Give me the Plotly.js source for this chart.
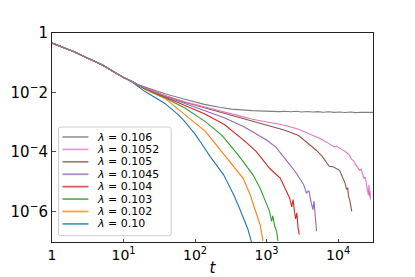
<!DOCTYPE html>
<html><head><meta charset="utf-8">
<script src="https://cdn.plot.ly/plotly-3.0.1.min.js"></script>
<style>html,body{margin:0;padding:0;background:#fff;} #chart{width:415px;height:277px;}</style>
</head><body><div id="chart"></div>
<script>
// ---- data ----
const lambdaLabels = ["0.10","0.102","0.103","0.104","0.1045","0.105","0.1052","0.106"];
const seriesColors = ["#1f77b4","#ff7f0e","#2ca02c","#d62728","#9467bd","#8c564b","#e377c2","#7f7f7f"];

// common early-time part shared by all curves
const tBase = [1,1.5,2,3,5,7,10];
const yBase = [0.457,0.316,0.240,0.151,0.0851,0.0525,0.0316];

// lambda = 0.10
const t100 = [13,16,20,38,59,72,100,126,162,251,347,407,468,550,617];
const y100 = [0.0229,0.0158,0.0107,0.00427,0.00174,0.00105,0.000398,0.000178,7.1e-5,1.7e-5,3.63e-6,1.48e-6,6.0e-7,2.45e-7,8.9e-8];
// lambda = 0.102
const t102 = [13,16,20,38,72,138,175,240,380,468,590,725,810,850,890];
const y102 = [0.0234,0.017,0.0126,0.0063,0.00174,0.000501,0.000251,1.0e-4,2.4e-5,1.32e-5,3.63e-6,7.8e-7,3.55e-7,2.0e-7,1.0e-7];
// lambda = 0.103
const t103 = [13,16,20,38,72,138,240,400,646,813,1000,1100,1175,1220,1300,1380,1445];
const y103 = [0.0234,0.0172,0.0132,0.0066,0.00302,0.00107,0.000355,7.9e-5,1.7e-5,6.0e-6,1.66e-6,1.0e-6,4.57e-7,7.1e-7,3.16e-7,2.14e-7,1.0e-7];
// lambda = 0.104
const t104 = [13,16,20,38,72,135,257,360,510,720,1100,1550,1900,2100,2250,2350,2450,2550,2650,2750,2870];
const y104 = [0.0237,0.0174,0.0135,0.00708,0.0038,0.00191,0.000832,0.000447,0.000219,0.000102,2.82e-5,1.32e-5,4.68e-6,2.82e-6,1.41e-6,2.51e-6,1.0e-6,5.6e-7,8.9e-7,2.82e-7,1.66e-7];
// lambda = 0.1045
const t1045 = [13,16,20,38,72,135,257,490,630,1000,1350,1800,2150,2600,3000,3300,3600,3900,4200,4450,4600,4750,4900,5000];
const y1045 = [0.0237,0.0176,0.0138,0.00741,0.00427,0.00251,0.00141,0.000692,0.000479,0.000251,0.000145,6.3e-5,3.55e-5,1.95e-5,1.12e-5,7.9e-6,4.17e-6,5.0e-6,2.0e-6,1.15e-6,2.24e-6,7.9e-7,4.0e-7,2.14e-7];
// lambda = 0.105
const t105 = [13,16,20,38,72,135,220,320,500,630,1000,1800,2800,4000,5000,6000,7500,8500,9500,10500,11500,12300,13200,13600,14000,14500,15000,15500];
const y105 = [0.024,0.0178,0.0141,0.00776,0.00468,0.00309,0.00219,0.00174,0.00132,0.00112,0.000832,0.000537,0.000355,0.000182,0.000112,7.1e-5,3.3e-5,3.16e-5,2.75e-5,2.4e-5,1.41e-5,1.0e-5,5.4e-6,6.3e-6,3.2e-6,2.5e-6,1.58e-6,1.0e-6];
// lambda = 0.1052
const t1052 = [13,16,20,38,72,135,220,320,500,630,1000,1800,2800,3900,5600,7000,8100,8800,9500,10500,11500,12500,13500,14500,15500,16500,17500,18500,20000,21000,22000,23000,24000,25000,25800,26500,27000,27500,28000,28300];
const y1052 = [0.024,0.018,0.0145,0.00794,0.0049,0.00324,0.0024,0.0019,0.00145,0.00126,0.00102,7.94e-4,5.75e-4,4.17e-4,2.82e-4,2.09e-4,1.74e-4,1.48e-4,1.58e-4,1.32e-4,1.17e-4,1.05e-4,8.9e-5,7.6e-5,5.6e-5,5.0e-5,3.8e-5,3.16e-5,2.4e-5,2.63e-5,1.58e-5,1.26e-5,1.41e-5,8.9e-6,5.6e-6,3.5e-6,7.9e-6,3.2e-6,5.0e-6,2.5e-6];
// lambda = 0.106
const t106 = [13,16,20,38,72,135,220,320,630,1000,1250,1500,1800,2200,2600,3100,3700,4400,5200,6200,7400,8800,10500,12500,15000,17500,21000,25000,30900];
const y106 = [0.024,0.0182,0.0151,0.0091,0.0059,0.00398,0.00316,0.00275,0.00245,0.00234,0.0024,0.00226,0.00234,0.00224,0.00232,0.00221,0.00229,0.00219,0.00226,0.00216,0.00224,0.00214,0.00221,0.00211,0.00219,0.00209,0.00216,0.00211,0.00214];

// ticks
const xTickVals = [1,10,100,1000,10000];
const xTickText = ["1","10<sup>1</sup>","10<sup>2</sup>","10<sup>3</sup>","10<sup>4</sup>"];
const yTickVals = [1,1e-2,1e-4,1e-6];
const yTickText = ["1","10<sup>−</sup>2","10<sup>−</sup>4","10<sup>−</sup>6"];

// ---- build ----
const tSeries = [t100,t102,t103,t104,t1045,t105,t1052,t106];
const ySeries = [y100,y102,y103,y104,y1045,y105,y1052,y106];

const traces = tSeries.map((ts,i)=>({
  x: tBase.concat(ts), y: yBase.concat(ySeries[i]),
  type:'scatter', mode:'lines', showlegend:false,
  line:{color:seriesColors[i], width:1.1},
  hoverinfo:'skip'
}));

const M = {l:51.5, r:41.7, t:32.7, b:34.7};
const W = 415 - M.l - M.r, H = 277 - M.t - M.b;
const px = v => (v - M.l)/W;
const py = v => (277 - M.b - v)/H;

// custom legend (top entry = last series)
const shapes = [];
const annotations = [];
const bx0 = 58, bx1 = 171, by0 = 127, by1 = 236, rr = 2.5;
const rx = rr/W, ry = rr/H;
const X0 = px(bx0), X1 = px(bx1), Y0 = py(by1), Y1 = py(by0);
shapes.push({type:'path', xref:'paper', yref:'paper',
  path:`M ${X0+rx} ${Y0} L ${X1-rx} ${Y0} Q ${X1} ${Y0} ${X1} ${Y0+ry} L ${X1} ${Y1-ry} Q ${X1} ${Y1} ${X1-rx} ${Y1} L ${X0+rx} ${Y1} Q ${X0} ${Y1} ${X0} ${Y1-ry} L ${X0} ${Y0+ry} Q ${X0} ${Y0} ${X0+rx} ${Y0} Z`,
  fillcolor:'rgba(255,255,255,0.8)', line:{color:'#cccccc', width:1}});
const n = lambdaLabels.length;
for (let k=0;k<n;k++){
  const i = n-1-k;
  const rowY = 137 + 12.45*k;
  shapes.push({type:'line', xref:'paper', yref:'paper', x0:px(62), x1:px(88), y0:py(rowY), y1:py(rowY),
    line:{color:seriesColors[i], width:1.8}, opacity:0.75});
  annotations.push({xref:'paper', yref:'paper', x:px(95.5), y:py(rowY), xanchor:'left', yanchor:'middle',
    borderpad:0, text:'<i>λ</i> = '+lambdaLabels[i], showarrow:false,
    font:{family:'DejaVu Sans', size:11, color:'#000'}});
}

const axisCommon = {type:'log', showgrid:false, zeroline:false, showline:true, mirror:true,
  linecolor:'#222', linewidth:1, ticks:'inside', ticklen:3.5, tickwidth:0.8, tickcolor:'#222'};

const layout = {
  width:415, height:277, margin:M, paper_bgcolor:'#fff', plot_bgcolor:'#fff',
  font:{family:'DejaVu Sans', color:'#000'},
  showlegend:false,
  xaxis:Object.assign({}, axisCommon, {range:[0,4.488], tickmode:'array', tickvals:xTickVals, ticktext:xTickText,
     tickfont:{size:14}, title:{text:'<i>t</i>', font:{size:15}, standoff:8}, automargin:false}),
  yaxis:Object.assign({}, axisCommon, {range:[-7.03,0], tickmode:'array', tickvals:yTickVals, ticktext:yTickText,
     tickfont:{size:15}, automargin:false}),
  shapes:shapes, annotations:annotations
};
Plotly.newPlot('chart', traces, layout, {staticPlot:true, displayModeBar:false});
</script></body></html>
